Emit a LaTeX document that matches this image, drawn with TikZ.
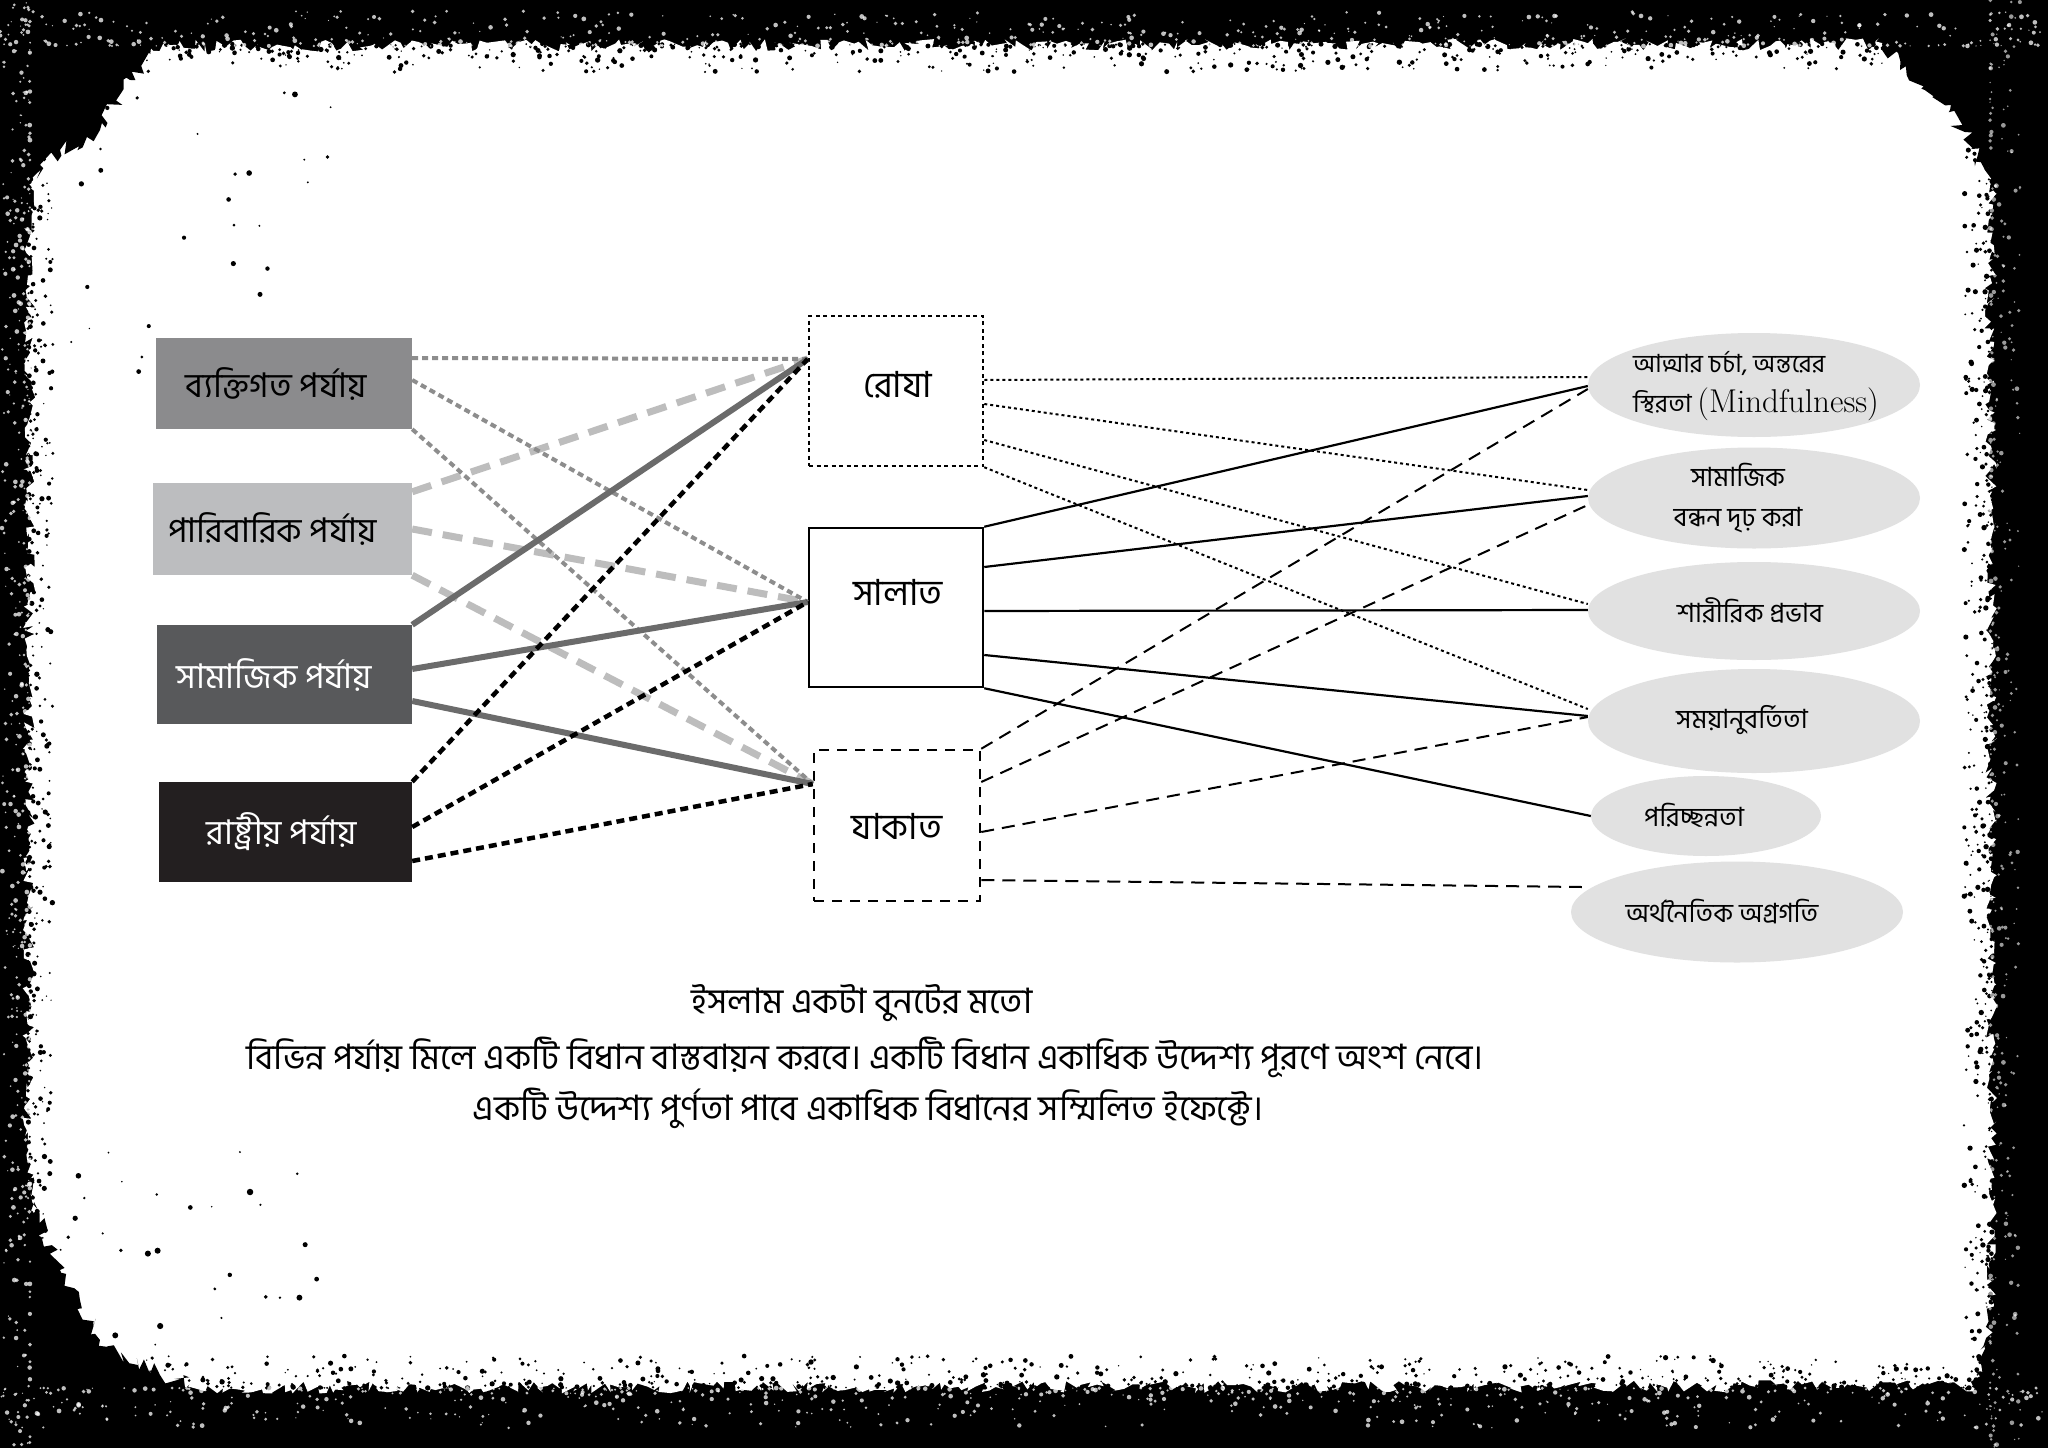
\documentclass[tikz,border=0pt]{standalone}
\usepackage{fontspec}
\newfontfamily\bn[Script=Bengali]{Hind Siliguri}
\usetikzlibrary{shapes.geometric,decorations.pathmorphing,calc}
\definecolor{lvone}{HTML}{8B8B8D}
\definecolor{lvtwo}{HTML}{BCBDBF}
\definecolor{lvthree}{HTML}{58595B}
\definecolor{lvfour}{HTML}{231F20}
\definecolor{lnone}{HTML}{8D8D8D}
\definecolor{lntwo}{HTML}{BDBDBD}
\definecolor{lnthree}{HTML}{6B6B6B}
\definecolor{ellfill}{HTML}{E1E1E1}
\begin{document}
\begin{tikzpicture}[x=1pt,y=-1pt,
  lvbox/.style={rectangle, draw=none, inner sep=0pt, font=\bn\fontsize{34}{40}\selectfont},
  midbox/.style={rectangle, inner sep=0pt, line width=2.5pt},
  midlabel/.style={inner sep=0pt, font=\bn\fontsize{36}{42}\selectfont},
  goal/.style={ellipse, fill=ellfill, draw=none, inner sep=0pt},
  goallabel/.style={inner sep=0pt, font=\bn\fontsize{26.5}{40}\selectfont},
  caption/.style={inner sep=0pt, font=\bn\fontsize{35}{40}\selectfont},
  linkA/.style={draw=lnone, line width=4pt, dash pattern=on 6pt off 4pt},
  linkB/.style={draw=lntwo, line width=7pt, dash pattern=on 20pt off 11pt},
  linkC/.style={draw=lnthree, line width=6pt},
  linkD/.style={draw=black, line width=4.5pt, dash pattern=on 8pt off 5pt},
  linkR/.style={draw=black, line width=2pt, dash pattern=on 3pt off 3pt},
  linkS/.style={draw=black, line width=2.2pt},
  linkZ/.style={draw=black, line width=2pt, dash pattern=on 13pt off 8pt},
  rough/.style={decorate, decoration={random steps, segment length=5pt, amplitude=#1}}
]
\useasboundingbox (0,0) rectangle (2048,1448);
% ---------- grunge frame ----------
\pgfmathsetseed{7}
\fill[black] (0,0) rectangle (2048,1448);
\fill[white, rough=6pt] (30,46) -- (1990,44) -- (1992,1386) -- (28,1388) -- cycle;
% corner blobs
\fill[black, rough=8pt] (0,0) -- (190,0) -- (170,40) -- (130,80) -- (100,130) -- (60,150) -- (30,180) -- (0,200) -- cycle;
\fill[black, rough=8pt] (1860,0) -- (2048,0) -- (2048,260) -- (2010,240) -- (1985,170) -- (1950,110) -- (1900,70) -- cycle;
\fill[black, rough=8pt] (0,1180) -- (30,1200) -- (60,1270) -- (100,1340) -- (160,1375) -- (230,1395) -- (260,1448) -- (0,1448) -- cycle;
\fill[black, rough=8pt] (1950,1448) -- (1975,1390) -- (1995,1300) -- (2048,1260) -- (2048,1448) -- cycle;
% grain along the inner edges
\foreach \i in {1,...,700}{
  \pgfmathsetmacro\xx{rnd*2048}
  \pgfmathsetmacro\yy{44+(rnd^2)*28}
  \pgfmathsetmacro\rr{0.7+rnd*2}
  \fill[black] (\xx,\yy) circle[radius=\rr pt];
}
\foreach \i in {1,...,700}{
  \pgfmathsetmacro\xx{rnd*2048}
  \pgfmathsetmacro\yy{1388-(rnd^2)*32}
  \pgfmathsetmacro\rr{0.7+rnd*2}
  \fill[black] (\xx,\yy) circle[radius=\rr pt];
}
\foreach \i in {1,...,500}{
  \pgfmathsetmacro\xx{28+(rnd^2)*25}
  \pgfmathsetmacro\yy{rnd*1448}
  \pgfmathsetmacro\rr{0.7+rnd*2}
  \fill[black] (\xx,\yy) circle[radius=\rr pt];
}
\foreach \i in {1,...,500}{
  \pgfmathsetmacro\xx{1992-(rnd^2)*28}
  \pgfmathsetmacro\yy{rnd*1448}
  \pgfmathsetmacro\rr{0.7+rnd*2}
  \fill[black] (\xx,\yy) circle[radius=\rr pt];
}
% stray specks near the corners
\foreach \i in {1,...,30}{
  \pgfmathsetmacro\xx{70+rnd*280}
  \pgfmathsetmacro\yy{80+rnd*300}
  \pgfmathsetmacro\rr{0.8+rnd*2.2}
  \fill[black] (\xx,\yy) circle[radius=\rr pt];
}
\foreach \i in {1,...,30}{
  \pgfmathsetmacro\xx{60+rnd*260}
  \pgfmathsetmacro\yy{1150+rnd*200}
  \pgfmathsetmacro\rr{0.8+rnd*2.6}
  \fill[black] (\xx,\yy) circle[radius=\rr pt];
}
% light grain on the dark band
\foreach \i in {1,...,600}{
  \pgfmathsetmacro\xx{rnd*2048}
  \pgfmathsetmacro\yy{46-(rnd^2)*35}
  \pgfmathsetmacro\rr{0.6+rnd*1.8}
  \fill[white, opacity=0.75] (\xx,\yy) circle[radius=\rr pt];
}
\foreach \i in {1,...,600}{
  \pgfmathsetmacro\xx{rnd*2048}
  \pgfmathsetmacro\yy{1388+(rnd^2)*40}
  \pgfmathsetmacro\rr{0.6+rnd*1.8}
  \fill[white, opacity=0.75] (\xx,\yy) circle[radius=\rr pt];
}
\foreach \i in {1,...,500}{
  \pgfmathsetmacro\xx{30-(rnd^2)*28}
  \pgfmathsetmacro\yy{rnd*1448}
  \pgfmathsetmacro\rr{0.6+rnd*1.8}
  \fill[white, opacity=0.75] (\xx,\yy) circle[radius=\rr pt];
}
\foreach \i in {1,...,400}{
  \pgfmathsetmacro\xx{1990+(rnd^2)*30}
  \pgfmathsetmacro\yy{rnd*1448}
  \pgfmathsetmacro\rr{0.6+rnd*1.8}
  \fill[white, opacity=0.6] (\xx,\yy) circle[radius=\rr pt];
}

% ---------- level boxes ----------
\node[lvbox, fill=lvone, minimum width=256pt, minimum height=91pt, text=black] (b1) at (284,383.5) {ব্যক্তিগত পর্যায়\hspace*{16pt}};
\node[lvbox, fill=lvtwo, minimum width=259pt, minimum height=92pt, text=black] (b2) at (282.5,529) {পারিবারিক পর্যায়\hspace*{20pt}};
\node[lvbox, fill=lvthree, minimum width=255pt, minimum height=99pt, text=white] (b3) at (284.5,674.5) {সামাজিক পর্যায়\hspace*{20pt}};
\node[lvbox, fill=lvfour, minimum width=253pt, minimum height=100pt, text=white] (b4) at (285.5,832) {রাষ্ট্রীয় পর্যায়\hspace*{8pt}};

% ---------- middle boxes ----------
\node[midbox, draw, dash pattern=on 4pt off 3.5pt, minimum width=174pt, minimum height=150pt] (roza) at (896,391) {};
\node[midbox, draw, minimum width=174pt, minimum height=159pt] (salat) at (896,607.5) {};
\node[midbox, draw, dash pattern=on 10pt off 8pt, minimum width=166pt, minimum height=151pt] (zakat) at (897,825.5) {};
\node[midlabel] (rozat) at (898,385) {রোযা};
\node[midlabel] (salatt) at (898,592) {সালাত};
\node[midlabel] (zakatt) at (897,826) {যাকাত};

% ---------- goals ----------
\node[goal, minimum width=332pt, minimum height=104pt] (e1) at (1754,385) {};
\node[goal, minimum width=332pt, minimum height=101pt] (e2) at (1754,498) {};
\node[goal, minimum width=332pt, minimum height=98pt] (e3) at (1754,611) {};
\node[goal, minimum width=332pt, minimum height=104pt] (e4) at (1754,721) {};
\node[goal, minimum width=230pt, minimum height=80pt] (e5) at (1706,816) {};
\node[goal, minimum width=332pt, minimum height=101pt] (e6) at (1737,912) {};
\node[goallabel, font=\bn\fontsize{25}{40}\selectfont, anchor=west, align=left] (e1t) at (1633,386) {আত্মার চর্চা, অন্তরের\\স্থিরতা {\rmfamily\fontsize{33}{40}\selectfont (Mindfulness)}};
\node[goallabel, align=center] (e2t) at (1738,498) {সামাজিক\\বন্ধন দৃঢ় করা};
\node[goallabel] (e3t) at (1750,610) {শারীরিক প্রভাব};
\node[goallabel] (e4t) at (1742,720) {সময়ানুবর্তিতা};
\node[goallabel] (e5t) at (1694,815) {পরিচ্ছন্নতা};
\node[goallabel] (e6t) at (1722,912) {অর্থনৈতিক অগ্রগতি};

% ---------- left links ----------
\draw[linkB] ([yshift=-9pt]b2.north east) -- ([yshift=32pt]roza.west);
\draw[linkB] (b2.east) -- ([yshift=5.5pt]salat.west);
\draw[linkB] (b2.south east) -- ([yshift=41.5pt]zakat.west);
\draw[linkA] ([yshift=25.5pt]b1.east) -- ([yshift=32pt]roza.west);
\draw[linkA] ([yshift=3.5pt]b1.east) -- ([yshift=5.5pt]salat.west);
\draw[linkA] (b1.south east) -- ([yshift=41.5pt]zakat.west);
\draw[linkC] (b3.north east) -- ([yshift=32pt]roza.west);
\draw[linkC] ([yshift=5.5pt]b3.east) -- ([yshift=5.5pt]salat.west);
\draw[linkC] ([yshift=-26.5pt]b3.east) -- ([yshift=41.5pt]zakat.west);
\draw[linkD] (b4.north east) -- ([yshift=32pt]roza.west);
\draw[linkD] ([yshift=5pt]b4.east) -- ([yshift=5.5pt]salat.west);
\draw[linkD] ([yshift=-29pt]b4.east) -- ([yshift=41.5pt]zakat.west);

% ---------- right links ----------
\draw[linkR] ([yshift=11pt]roza.east) -- ([yshift=8pt]e1.west);
\draw[linkR] ([yshift=-13pt]roza.east) -- ([yshift=8pt]e2.west);
\draw[linkR] ([yshift=-49pt]roza.east) -- ([yshift=7pt]e3.west);
\draw[linkR] (roza.south east) -- ([yshift=12pt]e4.west);
\draw[linkS] (salat.north east) -- ([yshift=-1pt]e1.west);
\draw[linkS] ([yshift=40.5pt]salat.east) -- ([yshift=2pt]e2.west);
\draw[linkS] ([yshift=-3.5pt]salat.east) -- ([yshift=1pt]e3.west);
\draw[linkS] ([yshift=-47.5pt]salat.east) -- ([yshift=5pt]e4.west);
\draw[linkS] (salat.south east) -- (e5.west);
\draw[linkZ] (zakat.north east) -- ([yshift=-4pt]e1.west);
\draw[linkZ] ([yshift=43.5pt]zakat.east) -- ([yshift=-7pt]e2.west);
\draw[linkZ] ([yshift=-6.5pt]zakat.east) -- ([yshift=4pt]e4.west);
\coordinate (e6in) at ([xshift=11pt,yshift=25pt]e6.west);
\draw[linkZ] ([yshift=-54.5pt]zakat.east) -- (e6in);

% ---------- caption ----------
\node[caption] (cap1) at (862,1003) {ইসলাম একটা বুনটের মতো};
\node[caption] (cap2) at (865,1057) {বিভিন্ন পর্যায় মিলে একটি বিধান বাস্তবায়ন করবে। একটি বিধান একাধিক উদ্দেশ্য পূরণে অংশ নেবে।};
\node[caption] (cap3) at (868,1108) {একটি উদ্দেশ্য পুর্ণতা পাবে একাধিক বিধানের সম্মিলিত ইফেক্টে।};
\end{tikzpicture}
\end{document}
